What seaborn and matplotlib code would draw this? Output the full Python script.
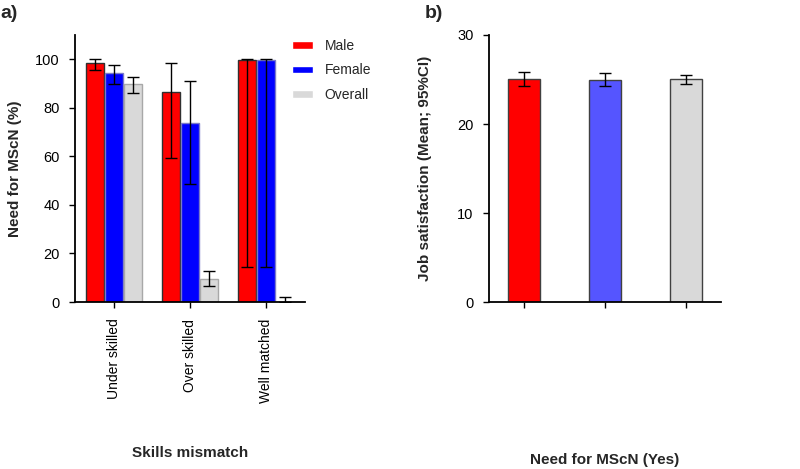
import numpy as np
import pandas as pd
import matplotlib
matplotlib.use("Agg")
import matplotlib.pyplot as plt
import seaborn as sns

sns.set_style("ticks")
plt.rcParams["font.family"] = ["Liberation Sans", "DejaVu Sans"]

# ── data: panel a (need for MScN by skills mismatch)
groups = ["Under skilled", "Over skilled", "Well matched"]
series = ["Male", "Female", "Overall"]
male_need = [98.6, 86.6, 99.9]
male_lo = [95.7, 59.5, 14.6]
male_hi = [100.0, 98.6, 100.0]
female_need = [94.2, 73.6, 99.9]
female_lo = [89.7, 48.8, 14.6]
female_hi = [97.5, 91.0, 100.0]
overall_need = [89.8, 9.4, 0.0]
overall_lo = [86.2, 6.7, 0.0]
overall_hi = [92.8, 12.9, 1.9]

# ── data: panel b (job satisfaction, mean and 95% CI)
sat_groups = ["Male", "Female", "Overall"]
sat_mean = [25.0, 24.95, 25.0]
sat_lo = [24.3, 24.3, 24.5]
sat_hi = [25.8, 25.7, 25.5]

df_a = pd.DataFrame({
    "group": groups * 3,
    "sex": np.repeat(series, len(groups)),
    "need": male_need + female_need + overall_need,
    "lo": male_lo + female_lo + overall_lo,
    "hi": male_hi + female_hi + overall_hi,
})
df_b = pd.DataFrame({"sex": sat_groups, "mean": sat_mean, "lo": sat_lo, "hi": sat_hi})

fig = plt.figure(figsize=(8, 4.69), dpi=100)
ax1 = fig.add_axes([75/800, 1-302/469, 230/800, 267/469])
ax2 = fig.add_axes([489/800, 1-302/469, 232/800, 267/469])

# ── panel a
fill_a = ["#ff0000", "#0000ff", "#d9d9d9"]
edge_a = ["#303030", "#7a7ac8", "#a8a8a8"]
sns.barplot(data=df_a, x="group", y="need", hue="sex", order=groups, hue_order=series,
            palette=fill_a, width=0.74, gap=0.04, errorbar=None, ax=ax1, saturation=1)
for cont, ec, s in zip(ax1.containers, edge_a, series):
    sub = df_a[df_a["sex"] == s].set_index("group").loc[groups]
    xs = [p.get_x() + p.get_width()/2 for p in cont.patches]
    for p in cont.patches:
        p.set_edgecolor(ec); p.set_linewidth(1.0)
    ax1.errorbar(xs, sub["need"], yerr=[sub["need"]-sub["lo"], sub["hi"]-sub["need"]],
                 fmt="none", ecolor="black", elinewidth=1, capsize=4, capthick=1, zorder=5)
h, l = ax1.get_legend_handles_labels()
ax1.get_legend().remove()
fig.legend(h, l, loc="upper left", bbox_to_anchor=(292/800, 1-39/469), frameon=False,
           fontsize=10, handlelength=1.5, handleheight=0.45, handletextpad=0.85,
           labelspacing=0.75, borderpad=0, borderaxespad=0)
ax1.set_ylim(0, 110)
ax1.set_yticks([0, 20, 40, 60, 80, 100])
ax1.set_xlim(-0.51, 2.51)
ax1.set_ylabel("Need for MScN (%)", fontsize=11, fontweight="bold")
ax1.set_xlabel("Skills mismatch", fontsize=11, fontweight="bold")
ax1.yaxis.set_label_coords(-0.23, 0.5)
ax1.xaxis.set_label_coords(0.5, -0.54)
ax1.tick_params(axis="x", labelrotation=90, labelsize=10, pad=8)
ax1.tick_params(axis="y", labelsize=10.5, pad=7)

# ── panel b
fill_b = ["#ff0000", "#5555ff", "#d9d9d9"]
sns.barplot(data=df_b, x="sex", y="mean", hue="sex", order=sat_groups, hue_order=sat_groups,
            palette=fill_b, width=0.39, dodge=False, errorbar=None, ax=ax2, saturation=1,
            edgecolor="#404040", linewidth=1.0)
for cont, s in zip(ax2.containers, sat_groups):
    row = df_b[df_b["sex"] == s]
    xs = [p.get_x() + p.get_width()/2 for p in cont.patches]
    ax2.errorbar(xs, row["mean"], yerr=[row["mean"]-row["lo"], row["hi"]-row["mean"]],
                 fmt="none", ecolor="black", elinewidth=1, capsize=4, capthick=1, zorder=5)
h, l = ax2.get_legend_handles_labels()
if ax2.get_legend():
    ax2.get_legend().remove()
fig.legend(h, l, loc="upper left", bbox_to_anchor=(718/800, 1-48.5/469), frameon=False,
           fontsize=10, handlelength=1.7, handleheight=0.45, handletextpad=0.85,
           labelspacing=0.45, borderpad=0, borderaxespad=0)
ax2.set_ylim(0, 30)
ax2.set_yticks([0, 10, 20, 30])
ax2.set_xlim(-0.43, 2.43)
ax2.set_xticklabels([])
ax2.set_ylabel("Job satisfaction (Mean; 95%CI)", fontsize=11, fontweight="bold")
ax2.set_xlabel("Need for MScN (Yes)", fontsize=11, fontweight="bold")
ax2.yaxis.set_label_coords(-0.245, 0.5)
ax2.xaxis.set_label_coords(0.5, -0.565)
ax2.tick_params(axis="y", labelsize=10.5, pad=7)

for ax in (ax1, ax2):
    sns.despine(ax=ax)
    for sp in ("left", "bottom"):
        ax.spines[sp].set_linewidth(1.3)
        ax.spines[sp].set_color("black")
    ax.tick_params(direction="out", length=4, width=1, colors="black")

fig.text(0.0, 1-13/469, "a)", fontsize=14, fontweight="bold", va="center", ha="left")
fig.text(425/800, 1-13/469, "b)", fontsize=14, fontweight="bold", va="center", ha="left")

fig.savefig("out.png", dpi=100)
